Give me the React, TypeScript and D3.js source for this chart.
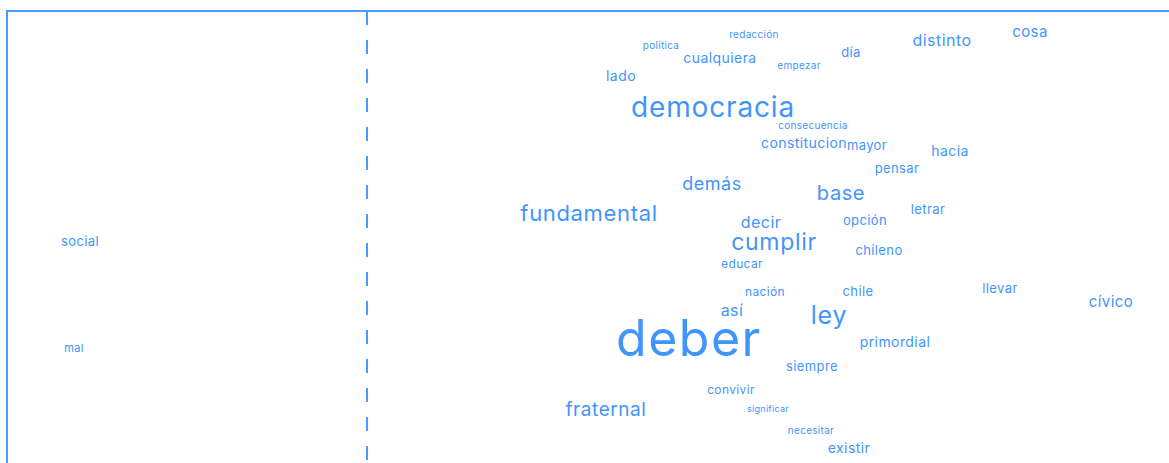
import React from "react";
import * as d3 from "d3";

// Word labels of the map
const words = [
  "social", "mal", "política", "redacción", "cualquiera", "empezar", "día", "distinto", "cosa", "lado",
  "democracia", "consecuencia", "constitucion", "mayor", "hacia", "pensar", "demás", "base", "fundamental", "letrar",
  "decir", "opción", "cumplir", "chileno", "educar", "nación", "chile", "llevar", "cívico", "así",
  "ley", "deber", "primordial", "siempre", "convivir", "fraternal", "significar", "necesitar", "existir",
];
// Dimension 1 (horizontal)
const dim1 = [
  -2.87, -2.93, 2.94, 3.87, 3.53, 4.32, 4.84, 5.75, 6.63, 2.54,
  3.46, 4.46, 4.37, 5.0, 5.83, 5.3, 3.45, 4.74, 2.22, 5.61,
  3.94, 4.98, 4.07, 5.12, 3.75, 3.98, 4.91, 6.33, 7.44, 3.65,
  4.62, 3.22, 5.28, 4.45, 3.64, 2.39, 4.01, 4.44, 4.82,
];
// Dimension 2 (vertical)
const dim2 = [
  -0.09, -1.15, 1.88, 1.99, 1.74, 1.68, 1.8, 1.91, 2.0, 1.56,
  1.2, 1.08, 0.89, 0.875, 0.81, 0.64, 0.47, 0.37, 0.16, 0.23,
  0.09, 0.12, -0.13, -0.18, -0.31, -0.59, -0.59, -0.56, -0.7, -0.79,
  -0.865, -1.19, -1.1, -1.34, -1.57, -1.79, -1.75, -1.97, -2.16,
];
// Frequency of each word
const freq = [
  5, 3, 2, 2, 6, 2, 5, 8, 7, 6,
  20, 2, 6, 5, 6, 5, 10, 12, 14, 5,
  8, 5, 15, 5, 4, 4, 5, 5, 7, 8,
  17, 42, 6, 5, 4, 11, 1, 2, 6,
];

const W = 1169;
const H = 463;
const color = "#3f95fc";

export default function App() {
  const x = d3.scaleLinear().domain([-3.6, 8.02]).range([7, W]);
  const y = d3.scaleLinear().domain([-2.26, 2.26]).range([H, 11]);
  const size = d3.scaleLinear().domain([1, 42]).range([9, 50]);

  return (
    <svg
      width={W}
      height={H}
      style={{ position: "absolute", left: 0, top: 0, display: "block" }}
      fontFamily="Inter, 'Noto Sans', sans-serif"
    >
      <rect x={7} y={11} width={W + 20} height={H + 20} fill="none" stroke="#4a9bff" strokeWidth={2} />
      <line
        x1={x(0)}
        x2={x(0)}
        y1={11}
        y2={H}
        stroke="#4a9bff"
        strokeWidth={2}
        strokeDasharray="14,15"
      />
      {words.map((w, i) => (
        <text
          key={w}
          x={x(dim1[i])}
          y={y(dim2[i])}
          textAnchor="middle"
          fontSize={size(freq[i])}
          letterSpacing="0.03em"
          fill={color}
        >
          {w}
        </text>
      ))}
    </svg>
  );
}
